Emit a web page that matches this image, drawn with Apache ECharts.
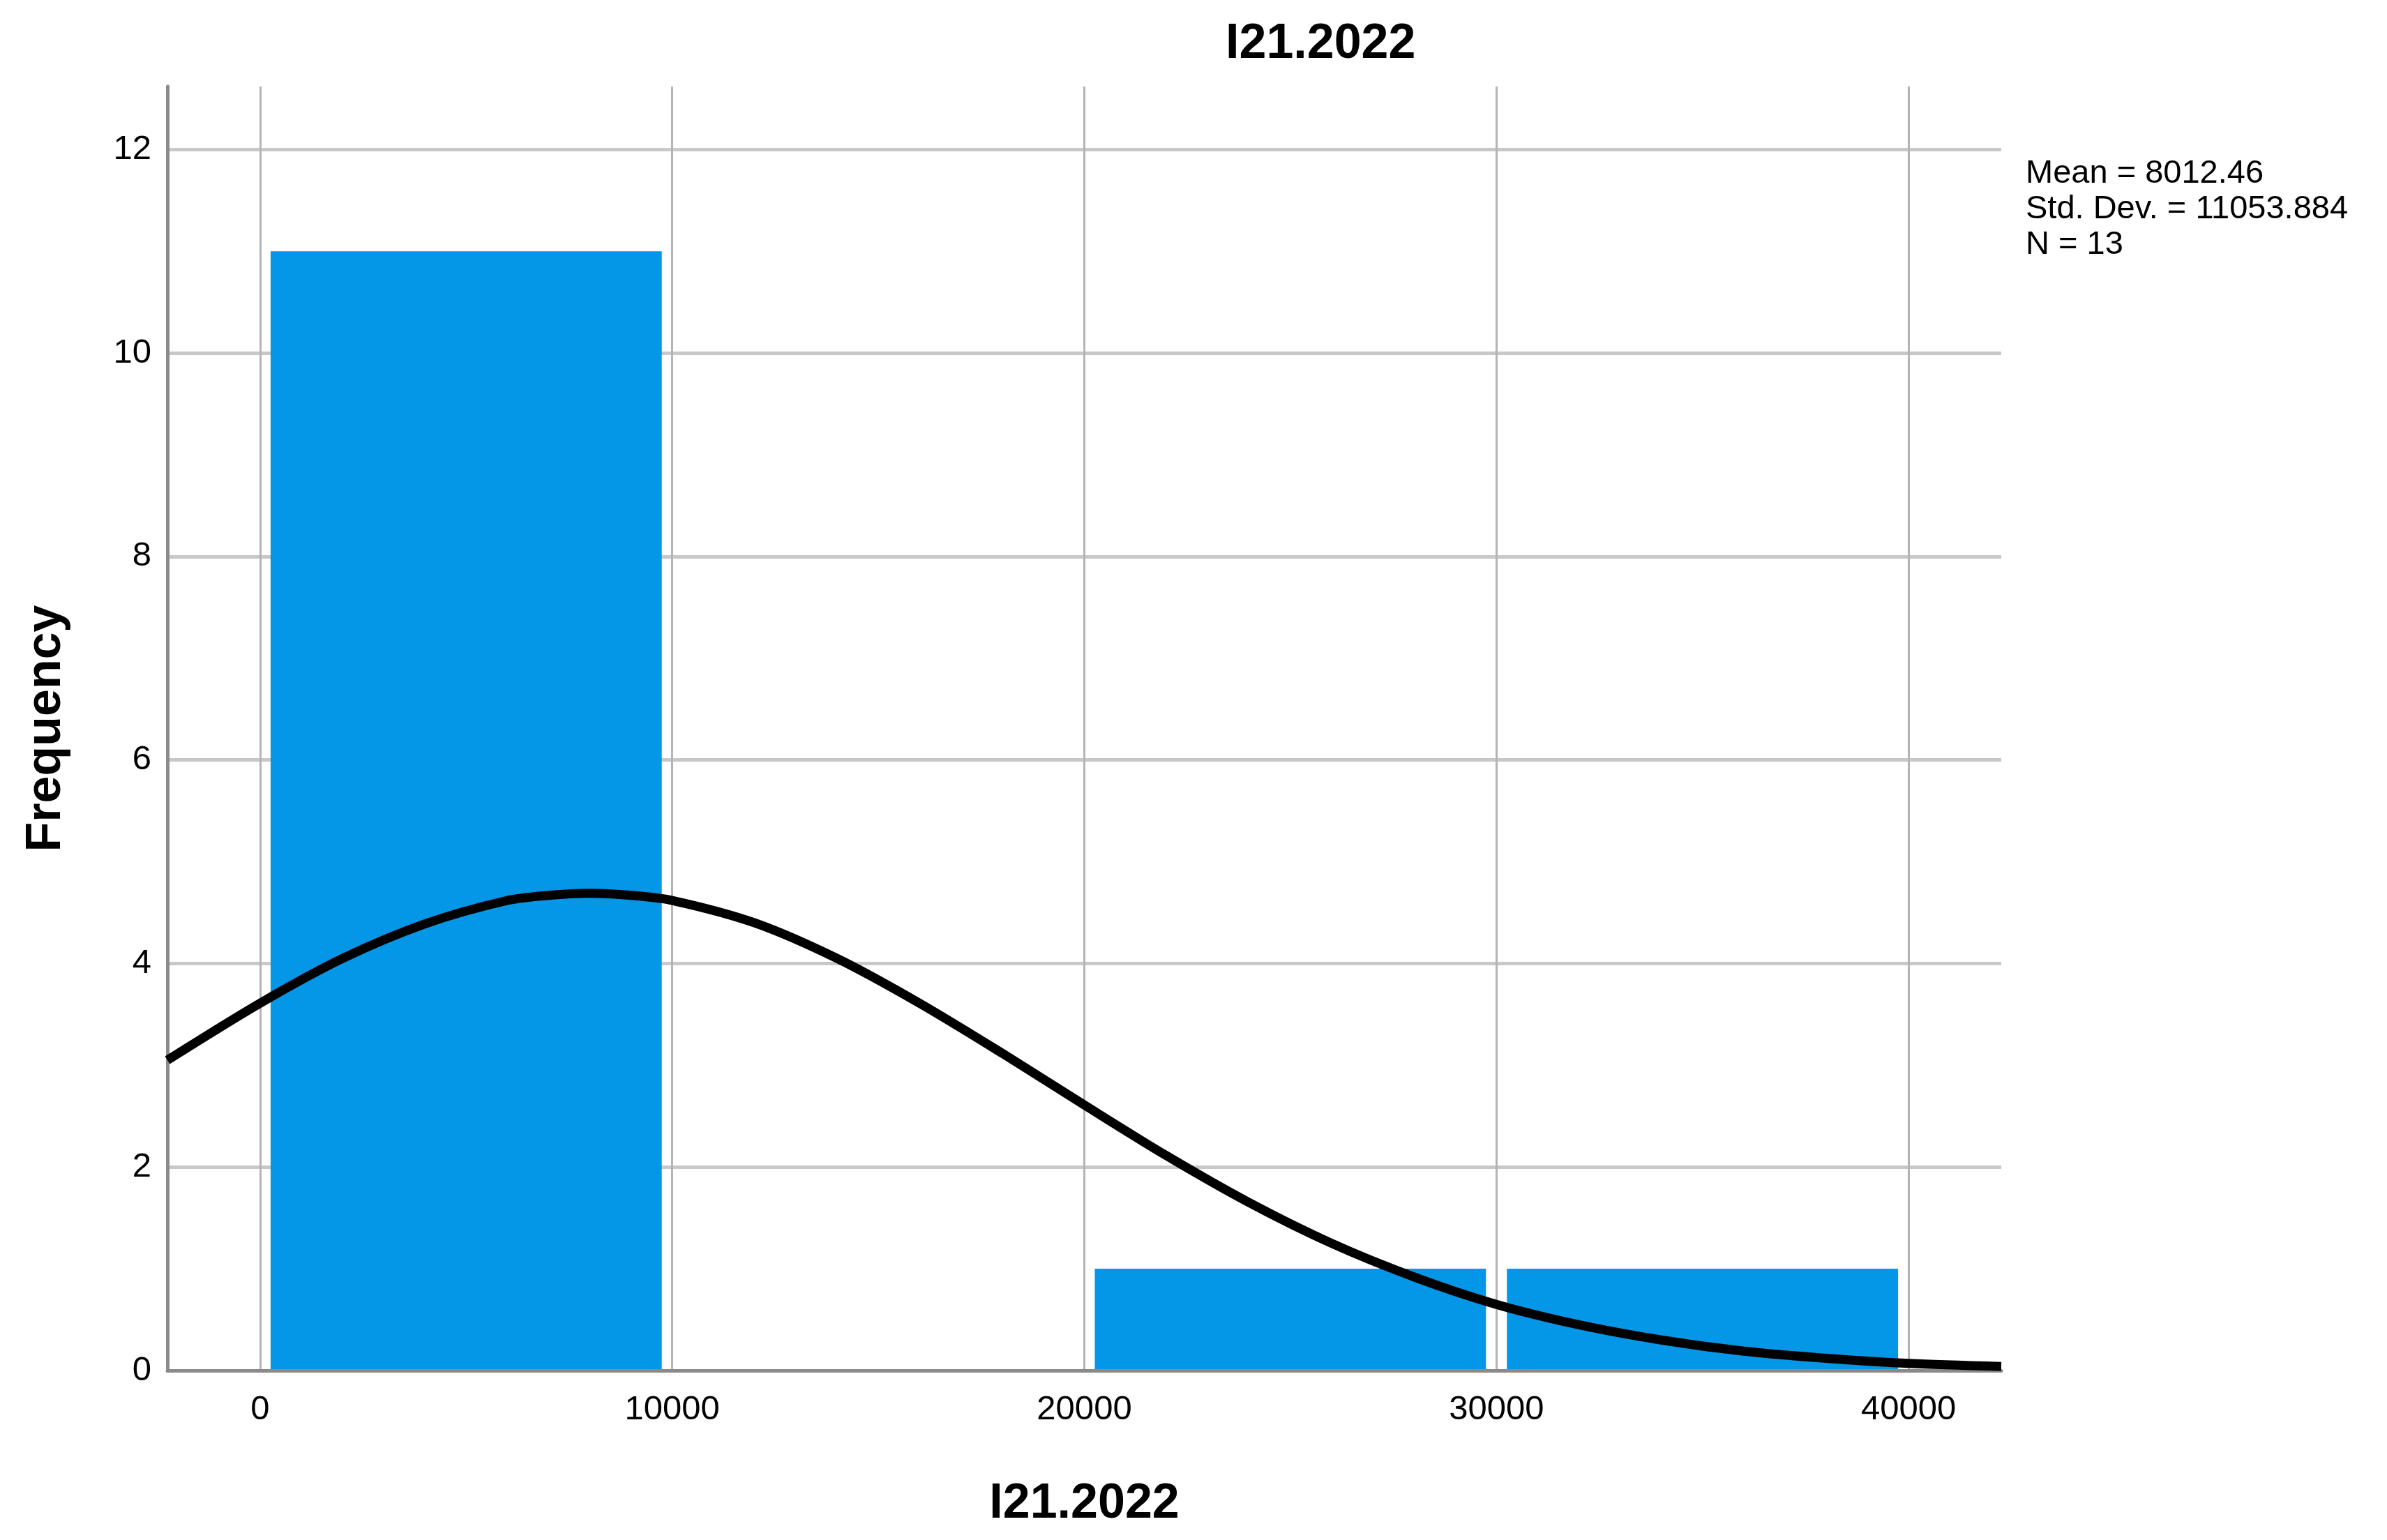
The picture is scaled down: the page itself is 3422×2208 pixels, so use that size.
<!DOCTYPE html>
<html>
<head>
<meta charset="utf-8">
<title>I21.2022</title>
<script src="https://cdn.jsdelivr.net/npm/echarts@6/dist/echarts.min.js"></script>
<style>
  html, body { margin: 0; padding: 0; background: #fff; }
  #chart { width: 3422px; height: 2208px; }
</style>
</head>
<body>
<div id="chart"></div>
<script>
// histogram bins
var binStarts = [0, 10000, 20000, 30000];
var binEnds = [10000, 20000, 30000, 40000];
var binCounts = [11, 0, 1, 1];

// normal curve
var curveX = [-2250, 0, 2000, 4000, 6000, 7000, 8000, 9000, 10000, 12000, 14000, 16000, 18000,
    20000, 22000, 24000, 26000, 28000, 30000, 32000, 34000, 36000, 38000, 40000, 42250];
var curveY = [3.05, 3.61, 4.05, 4.39, 4.62, 4.67, 4.69, 4.67, 4.62, 4.40, 4.05, 3.61, 3.12,
    2.61, 2.11, 1.65, 1.25, 0.92, 0.65, 0.45, 0.30, 0.19, 0.12, 0.07, 0.04];

var xTicks = [0, 10000, 20000, 30000, 40000];
var yTicks = [0, 2, 4, 6, 8, 10, 12];

var statLines = ['Mean = 8012.46', 'Std. Dev. = 11053.884', 'N = 13'];

var font = 'Liberation Sans, Arial, sans-serif';

var bins = binStarts.map(function (s, i) { return [s, binEnds[i], binCounts[i]]; });
var curve = curveX.map(function (x, i) { return [x, curveY[i]]; });

var chart = echarts.init(document.getElementById('chart'));

chart.setOption({
    backgroundColor: '#ffffff',
    animation: false,
    title: [
        {
            text: 'I21.2022',
            left: 1752,
            top: 24,
            textStyle: { fontFamily: font, fontSize: 70, fontWeight: 'bold', color: '#000' }
        },
        {
            text: statLines.join('\n'),
            left: 2899,
            top: 219,
            textStyle: { fontFamily: font, fontSize: 47, fontWeight: 'normal', color: '#000', lineHeight: 51 }
        }
    ],
    grid: { left: 240, right: 553, top: 124, bottom: 243, containLabel: false },
    xAxis: {
        type: 'value',
        min: -2250,
        max: 42250,
        z: 3,
        name: 'I21.2022',
        nameLocation: 'middle',
        nameGap: 157,
        nameTextStyle: { fontFamily: font, fontSize: 70, fontWeight: 'bold', color: '#000' },
        axisLine: { show: true, onZero: false, lineStyle: { color: '#8a8a8a', width: 5 } },
        axisTick: { show: false, customValues: xTicks },
        axisLabel: {
            customValues: xTicks, margin: 32, fontFamily: font, fontSize: 49, color: '#000',
            formatter: function (v) { return String(v); }
        },
        splitLine: { show: true, lineStyle: { color: '#b4b4b4', width: 3 } }
    },
    yAxis: {
        type: 'value',
        min: 0,
        max: 12.62,
        interval: 2,
        name: 'Frequency',
        nameLocation: 'middle',
        nameRotate: 90,
        nameGap: 138,
        nameTextStyle: { fontFamily: font, fontSize: 70, fontWeight: 'bold', color: '#000' },
        axisLine: { show: true, onZero: false, lineStyle: { color: '#8a8a8a', width: 5 } },
        axisTick: { show: false, customValues: yTicks },
        axisLabel: {
            customValues: yTicks, margin: 23, fontFamily: font, fontSize: 49, color: '#000',
            formatter: function (v) { return String(v); }
        },
        splitLine: { show: true, lineStyle: { color: '#c8c8c8', width: 5 } }
    },
    series: [
        {
            type: 'custom',
            z: 2,
            data: bins,
            encode: { x: [0, 1], y: 2 },
            renderItem: function (params, api) {
                var top = api.coord([api.value(0), api.value(2)]);
                var bottom = api.coord([api.value(1), 0]);
                var inset = 15;
                return {
                    type: 'rect',
                    shape: {
                        x: top[0] + inset,
                        y: top[1],
                        width: bottom[0] - top[0] - 2 * inset,
                        height: bottom[1] - top[1]
                    },
                    style: { fill: '#0497e7' }
                };
            }
        },
        {
            type: 'line',
            z: 10,
            data: curve,
            smooth: 0.3,
            showSymbol: false,
            clip: true,
            lineStyle: { color: '#000', width: 13 }
        }
    ]
});

window.onresize = function () { chart.resize(); };
</script>
</body>
</html>
